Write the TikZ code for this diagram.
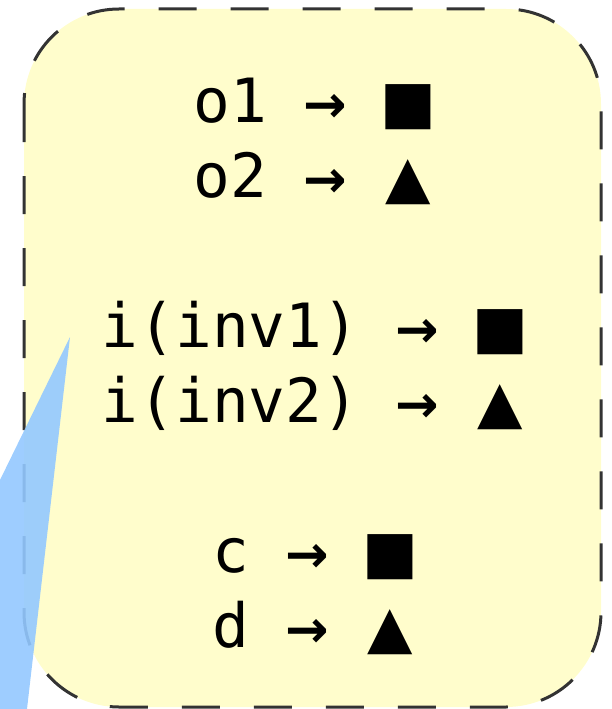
\documentclass[tikz,border=0pt]{standalone}
\usepackage{fontspec}
\setmonofont{DejaVu Sans Mono}
\newfontfamily\shapefont{DejaVu Sans}
\newfontfamily\arrowfont{DejaVu Sans Bold}
\definecolor{noteyellow}{RGB}{255,253,204}
\definecolor{tailblue}{RGB}{147,200,255}
\definecolor{edgegrey}{RGB}{51,51,51}
\newcommand{\maps}{{\arrowfont\fontsize{52}{75}\selectfont →}}
% both shapes get the same width so the lines centre alike
\newcommand{\sq}{\makebox[48pt]{\shapefont\fontsize{59}{75}\selectfont ■}}
\newcommand{\tri}{\makebox[48pt]{\shapefont\fontsize{59}{75}\selectfont ▲}}

\begin{document}
\begin{tikzpicture}[x=1pt,y=-1pt,
		entry/.style={anchor=base,inner sep=0pt,font=\ttfamily\fontsize{61}{75}\selectfont}]
	\useasboundingbox (0,0) rectangle (611,709);
	\draw[fill=noteyellow,draw=edgegrey,line width=3pt,rounded corners=95pt,
		dash pattern=on 38pt off 34pt] (24,9) rectangle (601,707);

	\node[entry] (o1) at (313,122) {o1 \maps{} \sq};
	\node[entry] (o2) at (313,197) {o2 \maps{} \tri};
	\node[entry] (inv1) at (313,347) {i(inv1) \maps{} \sq};
	\node[entry] (inv2) at (313,422) {i(inv2) \maps{} \tri};
	\node[entry] (c) at (313,572) {c \maps{} \sq};
	\node[entry] (d) at (313,647) {d \maps{} \tri};

	% callout tail
	\fill[tailblue,fill opacity=0.9] (70,337) -- (0,480) -- (0,709) -- (27,709) -- cycle;
\end{tikzpicture}
\end{document}
